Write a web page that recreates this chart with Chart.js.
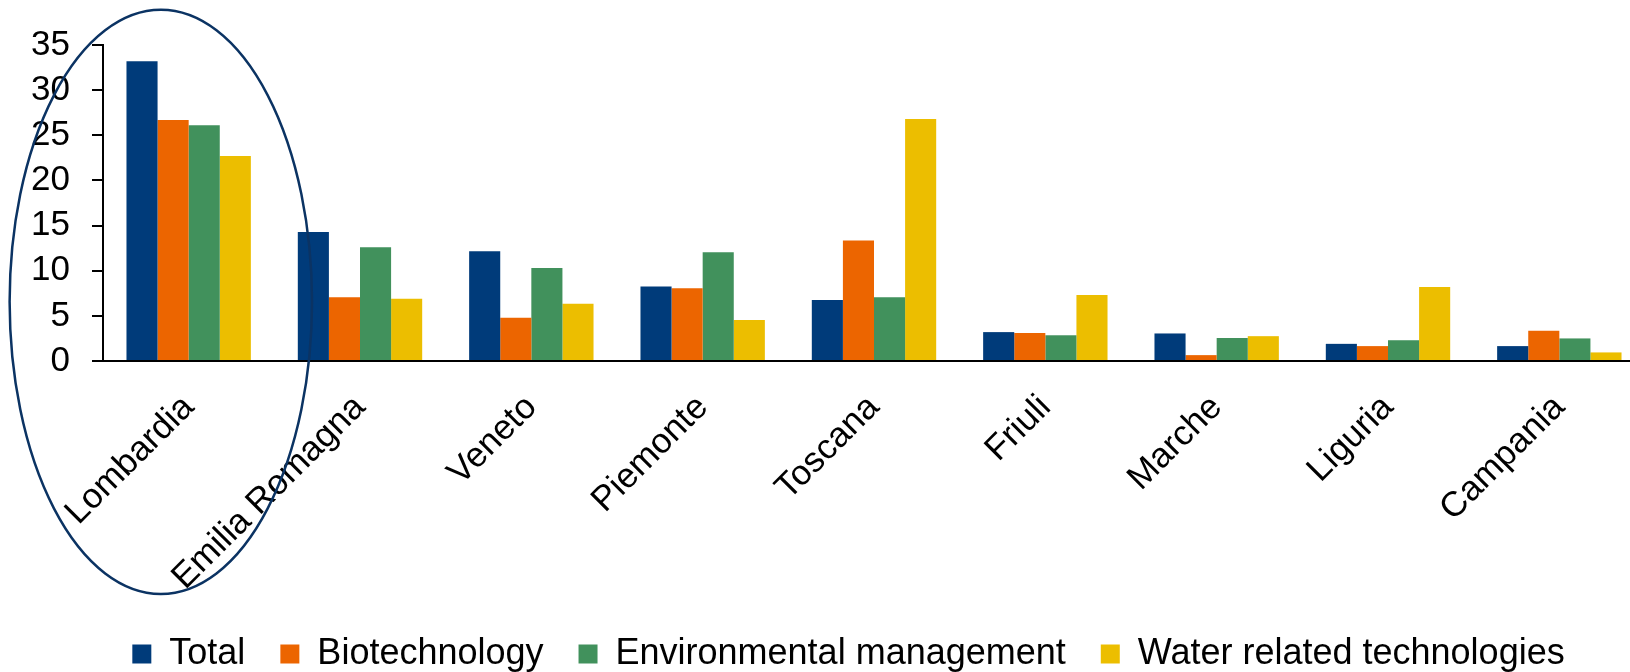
<!DOCTYPE html>
<html>
<head>
<meta charset="utf-8">
<script src="https://cdn.jsdelivr.net/npm/chart.js@4.4.1/dist/chart.umd.min.js"></script>
<style>
  html, body { margin: 0; padding: 0; background: #fff; overflow: hidden; }
  #wrap { width: 1630px; height: 672px; position: relative; overflow: hidden; }
  #chart { display: block; }
</style>
</head>
<body>
<div id="wrap"><canvas id="chart" width="1645" height="672"></canvas></div>
<script>
// Regions and their shares per technology field
const regions = ['Lombardia', 'Emilia Romagna', 'Veneto', 'Piemonte', 'Toscana', 'Friuli', 'Marche', 'Liguria', 'Campania'];
const seriesNames = ['Total', 'Biotechnology', 'Environmental management', 'Water related technologies'];
const total = [33.2, 14.3, 12.15, 8.25, 6.75, 3.2, 3.05, 1.9, 1.65];
const biotechnology = [26.7, 7.05, 4.8, 8.05, 13.35, 3.1, 0.65, 1.65, 3.35];
const environmental = [26.1, 12.6, 10.3, 12.05, 7.05, 2.85, 2.55, 2.3, 2.5];
const water = [22.7, 6.9, 6.35, 4.55, 26.8, 7.3, 2.75, 8.2, 0.95];
const yTicks = [0, 5, 10, 15, 20, 25, 30, 35];

const seriesColors = ['#003B7A', '#EC6500', '#41915C', '#ECBE00'];
const FONT = '"Liberation Sans", Arial, sans-serif';

// Ellipse drawn round the leading region, in category-index / value units
const highlight = { xFrom: -1.045, xTo: 0.72, yFrom: -25.8, yTo: 38.9 };

const highlightEllipse = {
  id: 'highlightEllipse',
  afterDraw(chart) {
    const { ctx, scales: { x, y } } = chart;
    const x0 = x.getPixelForValue(highlight.xFrom);
    const x1 = x.getPixelForValue(highlight.xTo);
    const y0 = y.getPixelForValue(highlight.yTo);
    const y1 = y.getPixelForValue(highlight.yFrom);
    ctx.save();
    ctx.beginPath();
    ctx.ellipse((x0 + x1) / 2, (y0 + y1) / 2, (x1 - x0) / 2, (y1 - y0) / 2, 0, 0, Math.PI * 2);
    ctx.strokeStyle = '#0B3363';
    ctx.lineWidth = 2.5;
    ctx.stroke();
    ctx.restore();
  }
};

// Centre the legend row a little right of the canvas middle, under the plot
const legendShift = {
  id: 'legendShift',
  afterLayout(chart) {
    const lg = chart.legend;
    if (lg) { lg.left += 26; lg.right += 26; }
  }
};

const seriesValues = [total, biotechnology, environmental, water];

new Chart(document.getElementById('chart'), {
  type: 'bar',
  data: {
    labels: regions,
    datasets: seriesNames.map((name, i) => ({
      label: name,
      data: seriesValues[i],
      backgroundColor: seriesColors[i],
      borderWidth: 0,
      categoryPercentage: 0.726,
      barPercentage: 1.0
    }))
  },
  options: {
    responsive: false,
    animation: false,
    devicePixelRatio: 1,
    layout: { padding: { left: 0, right: 0, top: 45, bottom: -10 } },
    scales: {
      x: {
        afterFit(scale) { scale.height = 240; },
        grid: { display: false, drawTicks: false },
        border: { display: true, color: '#000', width: 2 },
        ticks: {
          autoSkip: false,
          minRotation: 45,
          maxRotation: 45,
          padding: 26,
          color: '#000',
          font: { family: FONT, size: 35 }
        }
      },
      y: {
        min: 0,
        max: 35,
        afterFit(scale) { scale.width = 103; },
        afterBuildTicks(scale) { scale.ticks = yTicks.map(v => ({ value: v })); },
        grid: { display: true, drawOnChartArea: false, drawTicks: true, tickLength: 11, color: '#000', lineWidth: 2 },
        border: { display: true, color: '#000', width: 2 },
        ticks: { padding: 22, color: '#000', font: { family: FONT, size: 35 } }
      }
    },
    plugins: {
      legend: {
        position: 'bottom',
        align: 'center',
        fullSize: true,
        labels: {
          boxWidth: 19,
          boxHeight: 19,
          padding: 35,
          color: '#000',
          font: { family: FONT, size: 36 }
        }
      },
      tooltip: { enabled: false }
    }
  },
  plugins: [highlightEllipse, legendShift]
});
</script>
</body>
</html>
